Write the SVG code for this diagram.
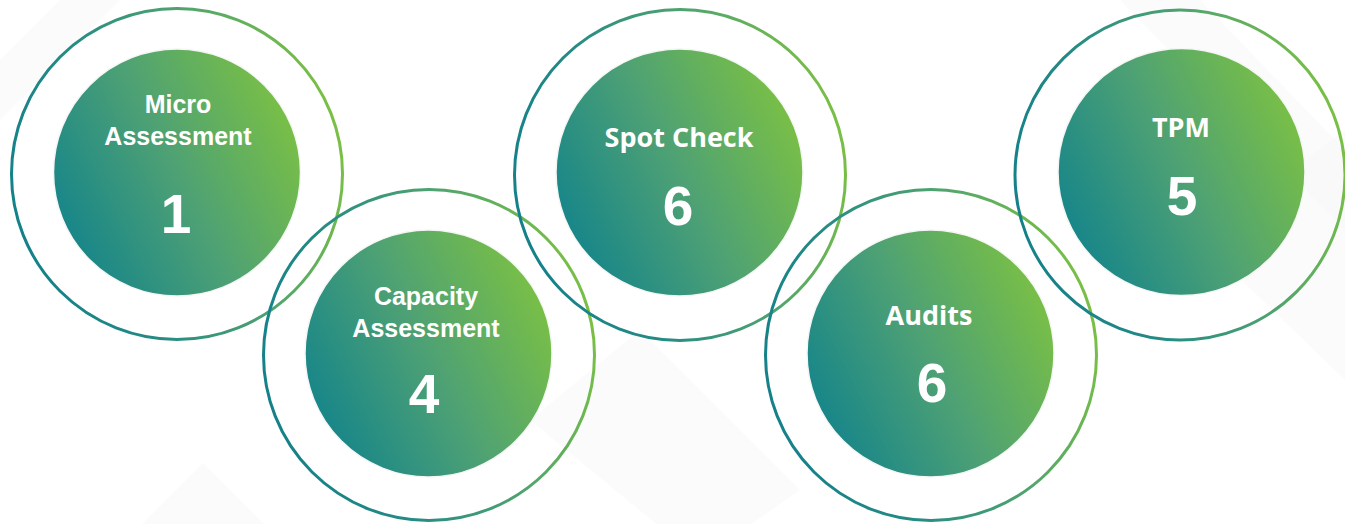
<svg xmlns="http://www.w3.org/2000/svg" width="1345" height="524" viewBox="0 0 1345 524">
<defs>
  <linearGradient id="g" x1="0" y1="0.75" x2="1" y2="0.25">
    <stop offset="0" stop-color="#12838b"/>
    <stop offset="0.5" stop-color="#4ea174"/>
    <stop offset="1" stop-color="#7dc242"/>
  </linearGradient>
  <linearGradient id="gr" x1="0" y1="0.65" x2="1" y2="0.35">
    <stop offset="0" stop-color="#138089"/>
    <stop offset="0.3" stop-color="#248a85"/>
    <stop offset="0.65" stop-color="#4fa36f"/>
    <stop offset="1" stop-color="#7cc143"/>
  </linearGradient>
  <style>
    .ring{fill:none;stroke:url(#gr);stroke-width:3}
    .disc{fill:url(#g);stroke:#f4f6f4;stroke-width:1.5}
    .lbl{font-family:"Open Sans","Liberation Sans",sans-serif;font-weight:700;font-size:27px;fill:#ffffff;text-anchor:middle}
    .lbl2{font-family:"Liberation Sans",Arial,sans-serif;font-weight:700;font-size:25px;fill:#ffffff;text-anchor:middle}
    .num{font-family:"Liberation Sans",Arial,sans-serif;font-weight:700;font-size:55px;fill:#ffffff;text-anchor:middle}
    .bg{fill:#f6f7f7;opacity:0.45}
  </style>
</defs>
<rect width="1345" height="524" fill="#ffffff"/>
<g id="background">
  <polygon class="bg" points="203,463 330,590 203,717 76,590"/>
  <polygon class="bg" points="530,420 640,330 800,490 700,560"/>
  <polygon class="bg" points="1120,0 1200,0 1345,150 1345,230"/>
  <polygon class="bg" points="1200,240 1345,130 1345,380"/>
  <polygon class="bg" points="0,60 60,0 120,0 0,120"/>
</g>
<g id="connectors"></g>
<g id="node-micro">
  <circle class="ring" cx="177" cy="174" r="165.5"/>
  <circle class="disc" cx="177" cy="172.5" r="123.5"/>
  <text class="lbl2" x="178" y="113">Micro</text>
  <text class="lbl2" x="178" y="145">Assessment</text>
  <text class="num" x="176" y="233">1</text>
</g>
<g id="node-capacity">
  <circle class="ring" cx="429" cy="355" r="165.5"/>
  <circle class="disc" cx="428.5" cy="353.5" r="123.5"/>
  <text class="lbl2" x="426" y="305">Capacity</text>
  <text class="lbl2" x="426" y="337">Assessment</text>
  <text class="num" x="424" y="413">4</text>
</g>
<g id="node-spot">
  <circle class="ring" cx="680" cy="175" r="165.5"/>
  <circle class="disc" cx="679.5" cy="172.5" r="123.5"/>
  <text class="lbl" x="679" y="147">Spot Check</text>
  <text class="num" x="678" y="225">6</text>
</g>
<g id="node-audits">
  <circle class="ring" cx="931" cy="355" r="165.5"/>
  <circle class="disc" cx="930.5" cy="353.5" r="123.5"/>
  <text class="lbl" x="929" y="325">Audits</text>
  <text class="num" x="932" y="402">6</text>
</g>
<g id="node-tpm">
  <circle class="ring" cx="1180" cy="175" r="165"/>
  <circle class="disc" cx="1181.5" cy="172" r="123.5"/>
  <text class="lbl" x="1181" y="137">TPM</text>
  <text class="num" x="1182" y="215">5</text>
</g>
</svg>
